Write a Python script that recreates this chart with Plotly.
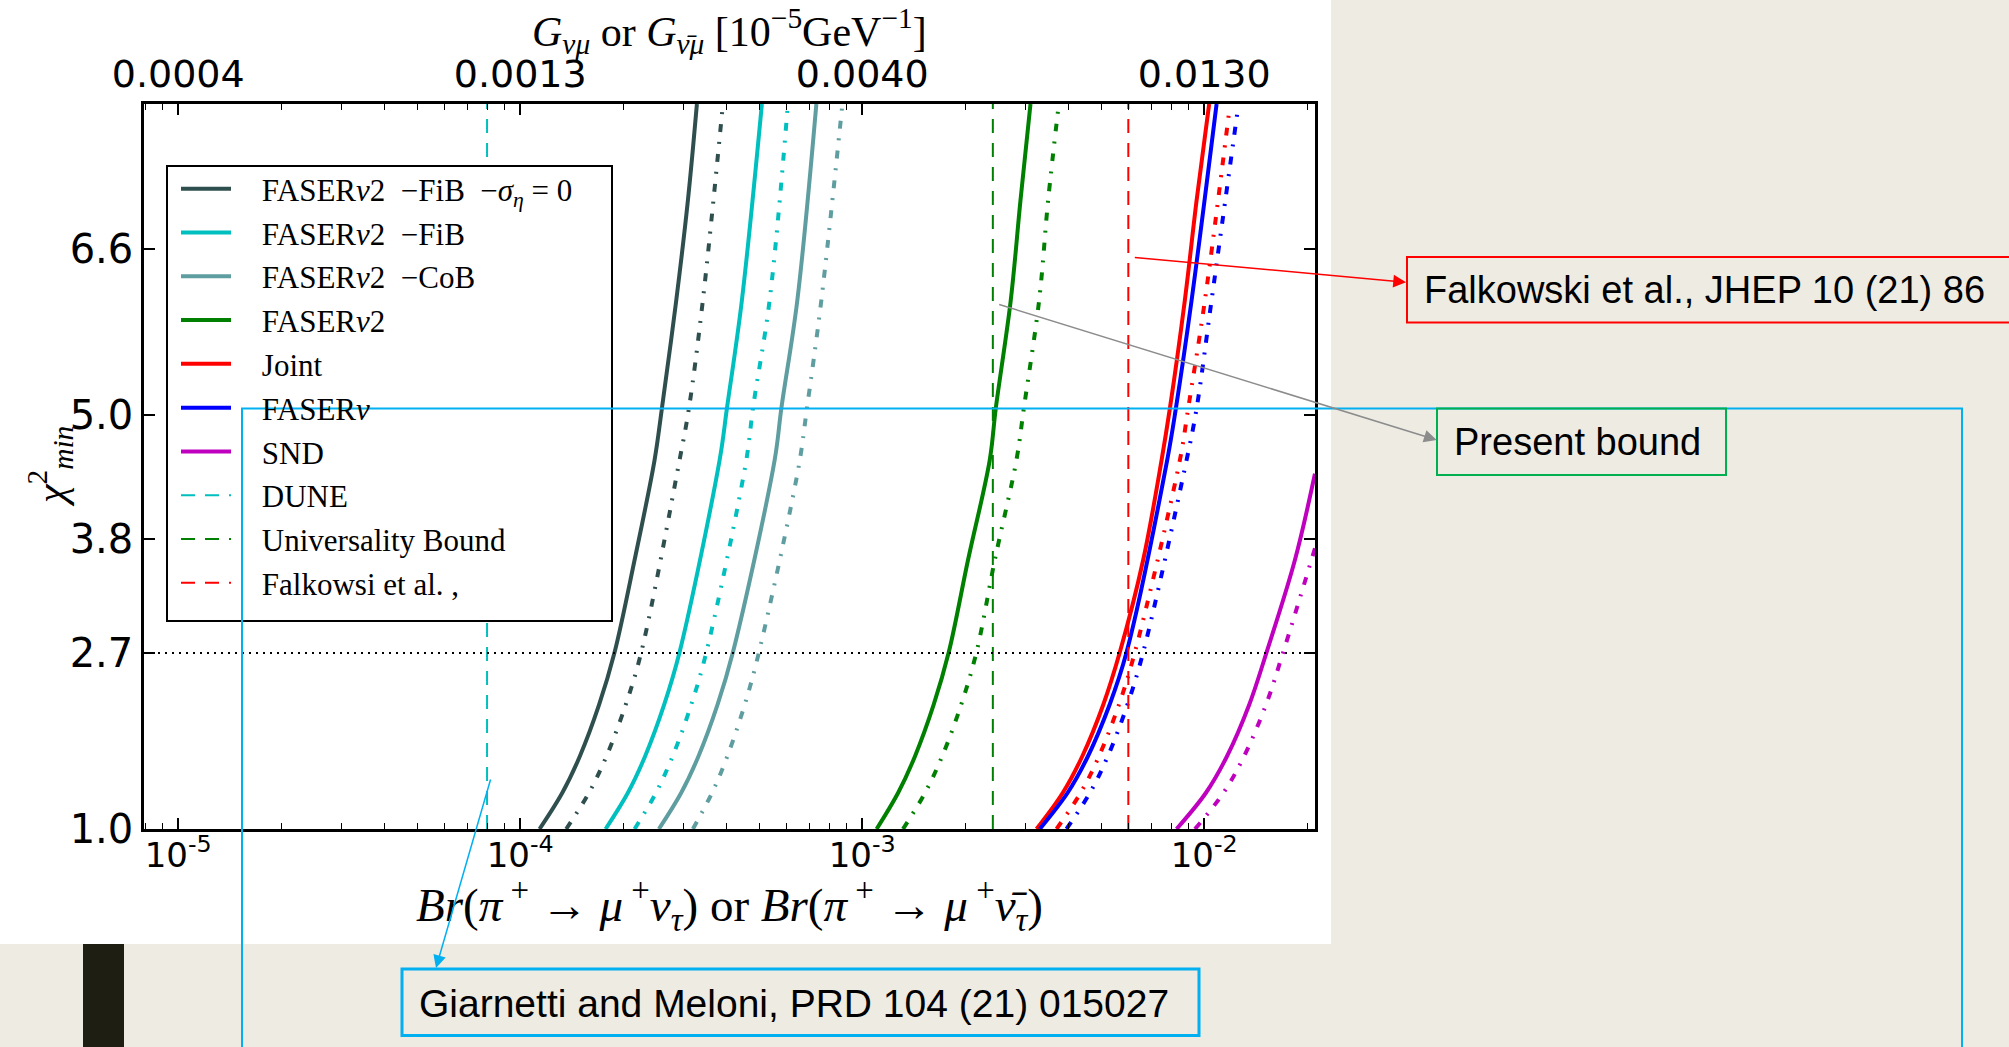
import plotly.graph_objects as go

# ---------------------------------------------------------------- data
# chi^2_min versus branching ratio; solid = first scenario, dash-dot = second
CHI_FIB0 = [1.0, 1.35, 1.7, 2.2, 2.706, 3.597, 4.562, 5.061, 6.106, 7.071, 8.0]
BR_FIB0 = [1.139e-4, 1.328e-4, 1.493e-4, 1.701e-4, 1.888e-4, 2.16e-4, 2.471e-4,
           2.596e-4, 2.86e-4, 3.093e-4, 3.286e-4]
CHI_FIB0_DD = [1.0, 1.35, 1.7, 2.2, 2.706, 4.562, 5.061, 6.106, 8.0]
BR_FIB0_DD = [1.363e-4, 1.589e-4, 1.786e-4, 2.035e-4, 2.259e-4, 2.924e-4, 3.114e-4,
              3.421e-4, 3.915e-4]

CHI_FIB = [1.0, 1.35, 1.7, 2.2, 2.706, 4.562, 5.061, 6.106, 8.0]
BR_FIB = [1.777e-4, 2.065e-4, 2.317e-4, 2.636e-4, 2.924e-4, 3.829e-4, 4.022e-4,
          4.449e-4, 5.09e-4]
CHI_FIB_DD = [1.0, 1.35, 1.7, 2.2, 2.706, 4.562, 5.061, 6.106, 8.0]
BR_FIB_DD = [2.16e-4, 2.495e-4, 2.789e-4, 3.163e-4, 3.501e-4, 4.583e-4, 4.792e-4,
             5.362e-4, 6.064e-4]

CHI_COB = [1.0, 1.35, 1.7, 2.2, 2.706, 4.562, 5.061, 6.106, 8.0]
BR_COB = [2.544e-4, 2.957e-4, 3.319e-4, 3.776e-4, 4.188e-4, 5.546e-4, 5.802e-4,
          6.462e-4, 7.345e-4]
CHI_COB_DD = [1.0, 1.35, 1.7, 2.2, 2.706, 4.497, 5.061, 6.106, 8.0]
BR_COB_DD = [3.199e-4, 3.639e-4, 4.031e-4, 4.533e-4, 4.99e-4, 6.518e-4, 6.893e-4,
             7.595e-4, 8.752e-4]

CHI_F2 = [1.0, 1.35, 1.7, 2.2, 2.706, 3.597, 4.562, 5.061, 6.106, 7.071, 8.0]
BR_F2 = [1.102e-3, 1.274e-3, 1.426e-3, 1.618e-3, 1.791e-3, 2.039e-3, 2.36e-3,
         2.458e-3, 2.719e-3, 2.903e-3, 3.105e-3]
CHI_F2_DD = [1.0, 1.35, 1.7, 2.2, 2.706, 3.597, 4.562, 5.061, 6.106, 7.071, 8.0]
BR_F2_DD = [1.316e-3, 1.527e-3, 1.712e-3, 1.947e-3, 2.158e-3, 2.442e-3, 2.825e-3,
            2.969e-3, 3.292e-3, 3.497e-3, 3.757e-3]

CHI_JOINT = [1.0, 1.35, 1.7, 2.2, 2.706, 3.597, 4.562, 5.061, 6.106, 7.071, 8.0]
BR_JOINT = [3.234e-3, 3.86e-3, 4.398e-3, 5.068e-3, 5.666e-3, 6.631e-3, 7.506e-3,
            7.937e-3, 8.779e-3, 9.502e-3, 1.034e-2]
CHI_JOINT_DD = [1.0, 1.35, 1.7, 2.2, 2.706, 4.562, 5.061, 6.106, 7.94]
BR_JOINT_DD = [3.7e-3, 4.353e-3, 4.92e-3, 5.632e-3, 6.27e-3, 8.489e-3, 8.978e-3,
               1.005e-2, 1.184e-2]

CHI_F1 = [1.0, 1.35, 1.7, 2.2, 2.706, 4.562, 5.061, 6.106, 8.0]
BR_F1 = [3.306e-3, 3.988e-3, 4.568e-3, 5.289e-3, 5.929e-3, 7.795e-3, 8.264e-3,
         9.187e-3, 1.087e-2]
CHI_F1_DD = [1.0, 1.35, 1.7, 2.2, 2.706, 4.562, 5.061, 6.106, 7.908]
BR_F1_DD = [3.957e-3, 4.634e-3, 5.223e-3, 5.964e-3, 6.631e-3, 8.881e-3, 9.502e-3,
            1.051e-2, 1.249e-2]

CHI_SND = [1.0, 1.35, 1.7, 2.2, 2.706, 3.597, 4.43]
BR_SND = [8.303e-3, 1.012e-2, 1.165e-2, 1.354e-2, 1.522e-2, 1.842e-2, 2.108e-2]
CHI_SND_DD = [1.0, 1.35, 1.7, 2.2, 2.706, 3.71]
BR_SND_DD = [9.397e-3, 1.139e-2, 1.307e-2, 1.516e-2, 1.702e-2, 2.108e-2]

# present bounds (vertical lines)
BR_DUNE = 8.0e-5
BR_UNIV = 2.41e-3
BR_FALK = 6.0e-3

# confidence-level line
CHI_CL = 2.7

X_RANGE_LOG = [-5.1, -1.676]
Y_RANGE = [1.0, 8.0]

X_TICKS = [1e-5, 1e-4, 1e-3, 1e-2]
X_TICK_TEXT = ["10<sup>-5</sup>", "10<sup>-4</sup>", "10<sup>-3</sup>", "10<sup>-2</sup>"]
G_TICK_TEXT = ["0.0004", "0.0013", "0.0040", "0.0130"]
Y_TICKS = [1.0, 2.7, 3.8, 5.0, 6.6]
Y_TICK_TEXT = ["1.0", "2.7", "3.8", "5.0", "6.6"]

# ---------------------------------------------------------------- geometry
W, H = 2009, 1047
PL, PR, PT, PB = 144, 1315, 104, 829


def px(x):
    return (x - PL) / (PR - PL)


def py(y):
    return (PB - y) / (PB - PT)


SERIF = "Liberation Serif"
SANS = "DejaVu Sans"
DASHDOT = "8px,10px,2px,10px"
PAD = "\u00a0\u00a0\u00a0\u200a"   # gap between legend sample and label

fig = go.Figure()

curves = [
    ("FASER<i>ν</i>2  −FiB  −<i>σ</i><sub><i>η</i></sub> = 0", "#2F4F4F",
     BR_FIB0, CHI_FIB0, BR_FIB0_DD, CHI_FIB0_DD),
    ("FASER<i>ν</i>2  −FiB", "#00BFBF", BR_FIB, CHI_FIB, BR_FIB_DD, CHI_FIB_DD),
    ("FASER<i>ν</i>2  −CoB", "#5F9EA0", BR_COB, CHI_COB, BR_COB_DD, CHI_COB_DD),
    ("FASER<i>ν</i>2", "#008000", BR_F2, CHI_F2, BR_F2_DD, CHI_F2_DD),
    ("Joint", "#FF0000", BR_JOINT, CHI_JOINT, BR_JOINT_DD, CHI_JOINT_DD),
    ("FASER<i>ν</i>", "#0000FF", BR_F1, CHI_F1, BR_F1_DD, CHI_F1_DD),
    ("SND", "#BF00BF", BR_SND, CHI_SND, BR_SND_DD, CHI_SND_DD),
]

for i, (name, col, bx, cy, bxd, cyd) in enumerate(curves):
    grp = f"g{i}"
    fig.add_trace(go.Scatter(
        x=bx, y=cy, mode="lines", name=PAD + name, legendgroup=grp,
        line=dict(color=col, width=4, shape="spline", smoothing=1.0)))
    fig.add_trace(go.Scatter(
        x=bxd, y=cyd, mode="lines", name=PAD + name, legendgroup=grp, showlegend=False,
        line=dict(color=col, width=4, dash=DASHDOT, shape="spline", smoothing=1.0)))

bounds = [
    ("DUNE", "#00BFBF", BR_DUNE),
    ("Universality Bound", "#008000", BR_UNIV),
    ("Falkowsi et al. ,", "#FF0000", BR_FALK),
]
for j, (name, col, xv) in enumerate(bounds):
    fig.add_trace(go.Scatter(
        x=[xv, xv], y=Y_RANGE, mode="lines", name=PAD + name, legendgroup=f"b{j}",
        line=dict(color=col, width=2, dash="14px,10px")))

# chi^2 = 2.7 reference line, drawn on the top (coupling) axis
fig.add_trace(go.Scatter(
    x=[10 ** X_RANGE_LOG[0], 10 ** X_RANGE_LOG[1]], y=[CHI_CL, CHI_CL],
    xaxis="x2", mode="lines", showlegend=False, hoverinfo="skip",
    line=dict(color="black", width=2, dash="2px,5px")))

# ---------------------------------------------------------------- shapes
shapes = [
    # white slide region holding the figure
    dict(type="rect", xref="paper", yref="paper", layer="below",
         x0=px(0), x1=px(1331), y0=py(944), y1=py(0),
         fillcolor="white", line=dict(width=0)),
    # dark bar at the slide's lower left
    dict(type="rect", xref="paper", yref="paper", layer="above",
         x0=px(83), x1=px(124), y0=py(1060), y1=py(944),
         fillcolor="#1E1E12", line=dict(width=0)),
    # legend frame (opaque)
    dict(type="rect", xref="paper", yref="paper", layer="above",
         x0=px(167), x1=px(612), y0=py(621), y1=py(166),
         fillcolor="white", line=dict(color="black", width=2)),
    # highlight frame
    dict(type="rect", xref="paper", yref="paper", layer="above",
         x0=px(242), x1=px(1962), y0=py(1070), y1=py(408.5),
         line=dict(color="#00B0F0", width=2)),
    # callout boxes
    dict(type="rect", xref="paper", yref="paper", layer="above",
         x0=px(1407), x1=px(2030), y0=py(322.5), y1=py(257),
         line=dict(color="#FF0000", width=2)),
    dict(type="rect", xref="paper", yref="paper", layer="above",
         x0=px(1437), x1=px(1726), y0=py(475), y1=py(408.5),
         line=dict(color="#00B050", width=2)),
    dict(type="rect", xref="paper", yref="paper", layer="above",
         x0=px(402), x1=px(1199), y0=py(1035.5), y1=py(969),
         line=dict(color="#00B0F0", width=3)),
]

ann = []
# axis titles
ann.append(dict(xref="paper", yref="paper", x=px(729), y=py(31), showarrow=False,
                xanchor="center", yanchor="middle",
                text="<i>G</i><sub><i>νμ</i></sub> or <i>G</i><sub><i>ν̄μ</i></sub> "
                     "[10<sup>−5</sup>GeV<sup>−1</sup>]",
                font=dict(family=SERIF, size=42, color="black")))
ann.append(dict(xref="paper", yref="paper", x=px(729), y=py(905), showarrow=False,
                xanchor="center", yanchor="middle",
                text="<i>Br</i>(<i>π</i><sup> +</sup> → <i>μ</i><sup> +</sup><i>ν</i><sub><i>τ</i></sub>) or "
                     "<i>Br</i>(<i>π</i><sup> +</sup> → <i>μ</i><sup> +</sup><i>ν̄</i><sub><i>τ</i></sub>)",
                font=dict(family=SERIF, size=47, color="black")))
ann.append(dict(xref="paper", yref="paper", x=px(50), y=py(467), showarrow=False,
                xanchor="center", yanchor="middle", textangle=-90,
                text="<i>χ</i><sup>2</sup><sub><i>min</i></sub>",
                font=dict(family=SERIF, size=42, color="black")))

# callout texts
CALL = dict(family="Liberation Sans", size=38, color="black")
ann.append(dict(xref="paper", yref="paper", x=px(1422), y=py(290), showarrow=False,
                xanchor="left", yanchor="middle", font=CALL,
                text="Falkowski et al., JHEP 10 (21) 86"))
ann.append(dict(xref="paper", yref="paper", x=px(1452), y=py(442), showarrow=False,
                xanchor="left", yanchor="middle", font=CALL, text="Present bound"))
ann.append(dict(xref="paper", yref="paper", x=px(417), y=py(1003), showarrow=False,
                xanchor="left", yanchor="middle",
                font=dict(family="Liberation Sans", size=39, color="black"),
                text="Giarnetti and Meloni, PRD 104 (21) 015027"))

# callout arrows (head at the box, tail on the plot)
for hx, hy, tx, ty, col in [
    (1406, 282.3, 1133.3, 257.3, "#FF0000"),
    (1436.7, 440, 997.7, 304, "#8C8C8C"),
    (436, 968, 491, 778, "#00B0F0"),
]:
    ann.append(dict(xref="paper", yref="paper", x=px(hx), y=py(hy),
                    axref="pixel", ayref="pixel", ax=tx - hx, ay=ty - hy,
                    text="", showarrow=True, arrowhead=2, arrowsize=1.7,
                    arrowwidth=1.5, arrowcolor=col, standoff=0, startstandoff=0))

fig.update_layout(
    width=W, height=H,
    margin=dict(l=PL, r=W - PR, t=PT, b=H - PB, autoexpand=False),
    paper_bgcolor="#EEEBE3",
    plot_bgcolor="white",
    shapes=shapes,
    annotations=ann,
    showlegend=True,
    legend=dict(x=px(176), y=py(162), xanchor="left", yanchor="top",
                bgcolor="rgba(0,0,0,0)", borderwidth=0,
                font=dict(family=SERIF, size=31, color="black"),
                tracegroupgap=0.5, itemwidth=50, traceorder="grouped"),
    xaxis=dict(type="log", range=X_RANGE_LOG, showgrid=False, zeroline=False,
               showline=True, linecolor="black", linewidth=2.5, mirror="ticks",
               ticks="inside", ticklen=11, tickwidth=1.5, tickcolor="black",
               tickmode="array", tickvals=X_TICKS, ticktext=X_TICK_TEXT,
               tickfont=dict(family=SANS, size=34, color="black"),
               ticklabelstandoff=-6,
               minor=dict(ticks="inside", ticklen=6, tickwidth=1.2,
                          tickcolor="black", dtick="D1", showgrid=False)),
    xaxis2=dict(type="log", range=X_RANGE_LOG, overlaying="x", side="top",
                showgrid=False, zeroline=False, showline=False, ticks="",
                tickmode="array", tickvals=X_TICKS, ticktext=G_TICK_TEXT,
                tickfont=dict(family=SANS, size=38, color="black"),
                ticklabelstandoff=8),
    yaxis=dict(range=Y_RANGE, showgrid=False, zeroline=False,
               showline=True, linecolor="black", linewidth=2.5, mirror="ticks",
               ticks="inside", ticklen=11, tickwidth=1.5, tickcolor="black",
               tickmode="array", tickvals=Y_TICKS, ticktext=Y_TICK_TEXT,
               tickfont=dict(family=SANS, size=40, color="black"),
               ticklabelstandoff=0),
)

fig.write_html("out.html")
